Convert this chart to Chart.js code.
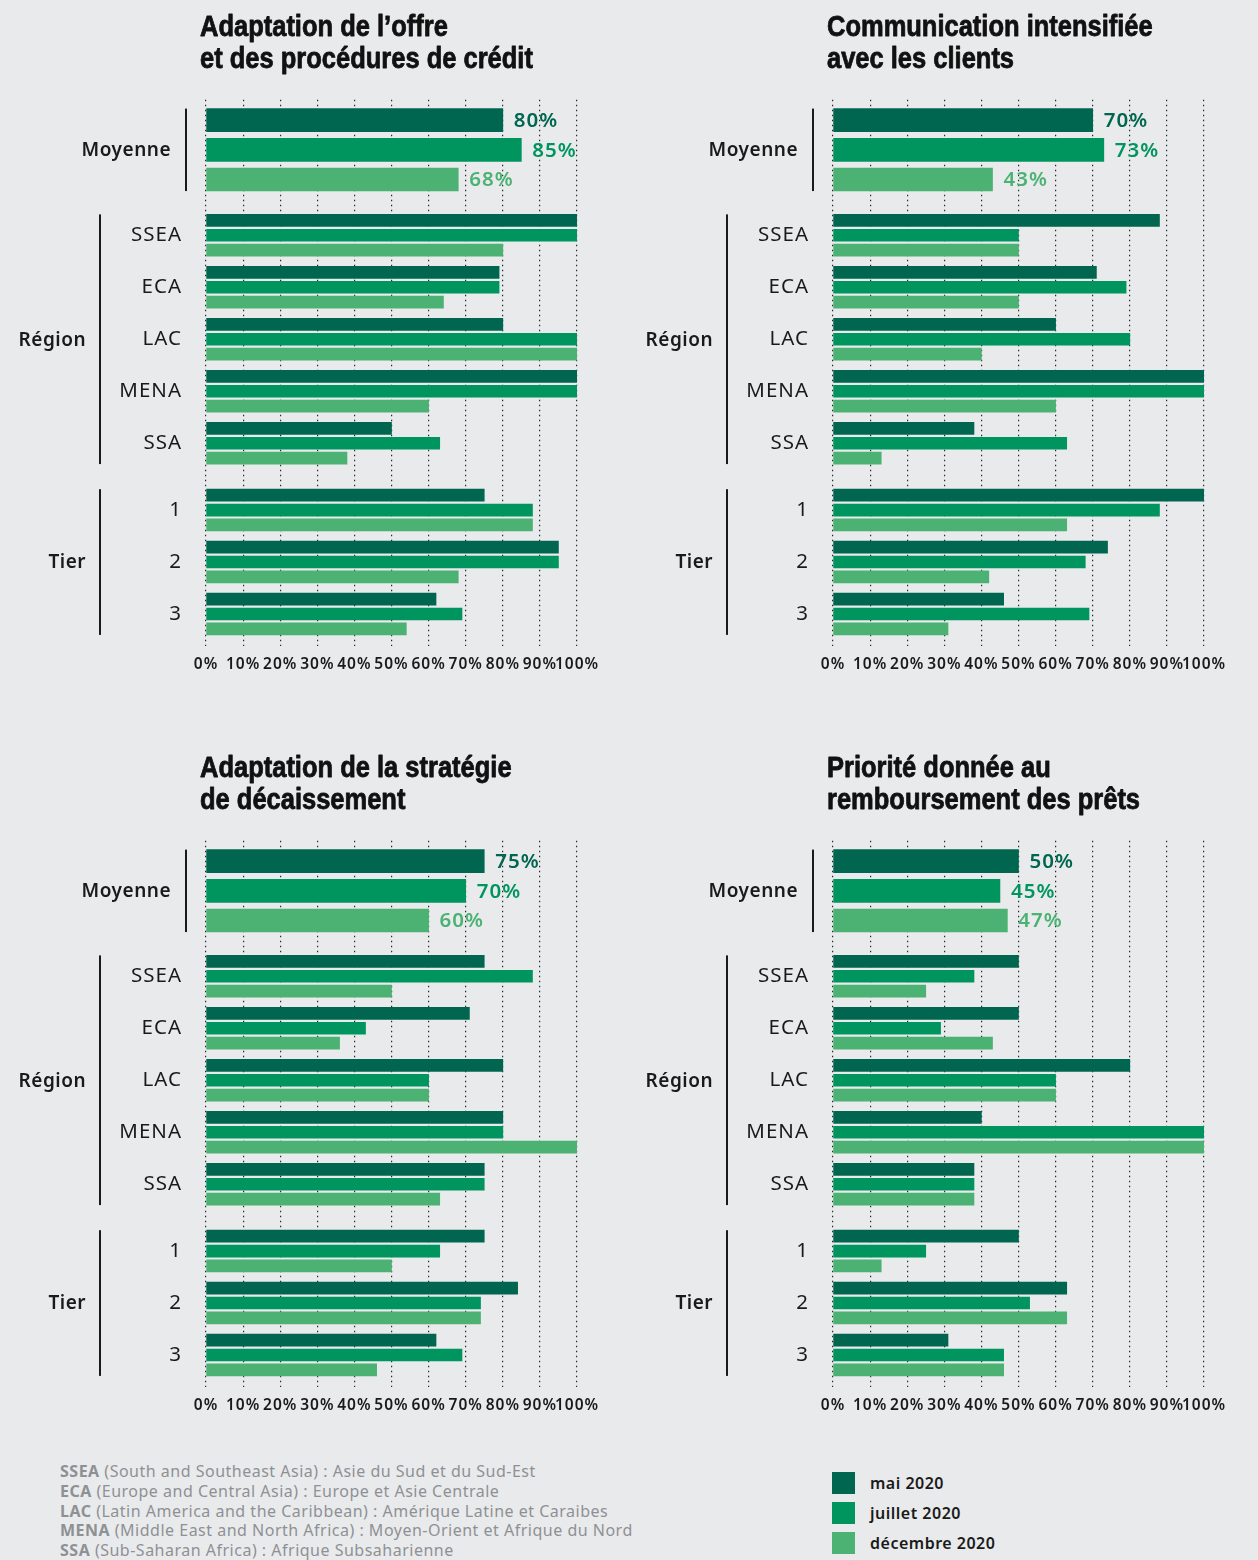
<!DOCTYPE html>
<html lang="fr">
<head>
<meta charset="utf-8">
<title>Adaptations face à la crise</title>
<script src="https://cdn.jsdelivr.net/npm/chart.js@4.4.1/dist/chart.umd.min.js"></script>
<style>
  html, body { margin: 0; padding: 0; background: #e9eaec; }
  body { width: 1258px; height: 1560px; position: relative; overflow: hidden; font-family: "Noto Sans", sans-serif; }
  .panel { position: absolute; width: 627px; height: 682px; }
  .notes { position: absolute; left: 60px; top: 1462px; color: #8e9194; font-size: 16px; letter-spacing: 0.5px; line-height: 19.8px; white-space: nowrap; }
  .notes b { font-weight: 700; }
  .legend { position: absolute; left: 832px; top: 1472px; color: #1a1a1a; font-size: 16px; font-weight: 600; letter-spacing: 0.5px; }
  .legend .item { position: relative; height: 22px; margin-bottom: 8px; }
  .legend .sw { position: absolute; left: 0; top: 0; width: 23px; height: 22px; }
  .legend .txt { position: absolute; left: 38px; top: 0; line-height: 22px; white-space: nowrap; }
</style>
</head>
<body>
<canvas id="c0" class="panel" width="627" height="682" style="left:0;top:0"></canvas>
<canvas id="c1" class="panel" width="627" height="682" style="left:627px;top:0"></canvas>
<canvas id="c2" class="panel" width="627" height="682" style="left:0;top:741px"></canvas>
<canvas id="c3" class="panel" width="627" height="682" style="left:627px;top:741px"></canvas>

<div class="notes">
  <div><b>SSEA</b> (South and Southeast Asia) : Asie du Sud et du Sud-Est</div>
  <div><b>ECA</b> (Europe and Central Asia) : Europe et Asie Centrale</div>
  <div><b>LAC</b> (Latin America and the Caribbean) : Amérique Latine et Caraibes</div>
  <div><b>MENA</b> (Middle East and North Africa) : Moyen-Orient et Afrique du Nord</div>
  <div><b>SSA</b> (Sub-Saharan Africa) : Afrique Subsaharienne</div>
</div>
<div class="legend" id="legend"></div>

<script>
// Series, groups and axis ticks shared by the four panels
const SERIES = ['mai 2020', 'juillet 2020', 'décembre 2020'];
const SERIES_COLORS = ['#00664f', '#00955f', '#4bb273'];
const REGIONS = ['SSEA', 'ECA', 'LAC', 'MENA', 'SSA'];
const TIERS = ['1', '2', '3'];
const SECTIONS = ['Moyenne', 'Région', 'Tier'];
const PERCENT_TICKS = [0, 10, 20, 30, 40, 50, 60, 70, 80, 90, 100];

// Adaptation de l'offre et des procédures de crédit
const offreTitle = ['Adaptation de l\u2019offre', 'et des procédures de crédit'];
const offreMoyenne = [80, 85, 68];
const offreRegion = [[100, 79, 80, 100, 50], [100, 79, 100, 100, 63], [80, 64, 100, 60, 38]];
const offreTier = [[75, 95, 62], [88, 95, 69], [88, 68, 54]];

// Communication intensifiée avec les clients
const commTitle = ['Communication intensifiée', 'avec les clients'];
const commMoyenne = [70, 73, 43];
const commRegion = [[88, 71, 60, 100, 38], [50, 79, 80, 100, 63], [50, 50, 40, 60, 13]];
const commTier = [[100, 74, 46], [88, 68, 69], [63, 42, 31]];

// Adaptation de la stratégie de décaissement
const decTitle = ['Adaptation de la stratégie', 'de décaissement'];
const decMoyenne = [75, 70, 60];
const decRegion = [[75, 71, 80, 80, 75], [88, 43, 60, 80, 75], [50, 36, 60, 100, 63]];
const decTier = [[75, 84, 62], [63, 74, 69], [50, 74, 46]];

// Priorité donnée au remboursement des prêts
const rembTitle = ['Priorité donnée au', 'remboursement des prêts'];
const rembMoyenne = [50, 45, 47];
const rembRegion = [[50, 50, 80, 40, 38], [38, 29, 60, 100, 38], [25, 43, 60, 100, 38]];
const rembTier = [[50, 63, 31], [25, 53, 46], [13, 63, 46]];

const PANELS = [
  { title: offreTitle, moyenne: offreMoyenne, region: offreRegion, tier: offreTier },
  { title: commTitle, moyenne: commMoyenne, region: commRegion, tier: commTier },
  { title: decTitle, moyenne: decMoyenne, region: decRegion, tier: decTier },
  { title: rembTitle, moyenne: rembMoyenne, region: rembRegion, tier: rembTier }
];

// Row layout of the category axis (half-bar units): each bar sits on its own row
const ROWS = 147, AVG_ROW = 5, AVG_STEP = 8, REGION_ROW = 32, TIER_ROW = 106, GROUP_STEP = 14, BAR_STEP = 4;

const LABEL_FONT = '"Noto Sans", "DejaVu Sans", sans-serif';
const TITLE_FONT = 'bold 29.3px "Liberation Sans", Arial, sans-serif';
const INK = '#1a1a1a';

const panelDecor = {
  id: 'panelDecor',
  beforeDraw(chart) {
    chart.ctx.letterSpacing = '1px';
  },
  afterDatasetsDraw(chart, args, opts) {
    const { ctx, chartArea: a, scales: { y } } = chart;
    const py = r => y.getPixelForValue(r);
    ctx.save();

    // title, in a tight condensed cut
    ctx.save();
    ctx.letterSpacing = '0px';
    ctx.fillStyle = '#111';
    ctx.strokeStyle = '#111';
    ctx.lineWidth = 0.8;
    ctx.lineJoin = 'round';
    ctx.font = TITLE_FONT;
    ctx.textAlign = 'left';
    ctx.textBaseline = 'alphabetic';
    ctx.translate(a.left - 6, 0);
    ctx.scale(0.87, 1);
    opts.title.forEach((line, i) => {
      ctx.fillText(line, 0, 36 + 32 * i);
      ctx.strokeText(line, 0, 36 + 32 * i);
    });
    ctx.restore();

    // value labels on the average bars
    ctx.letterSpacing = '1px';
    ctx.font = '600 20.5px ' + LABEL_FONT;
    ctx.textAlign = 'left';
    ctx.textBaseline = 'middle';
    chart.data.datasets.forEach((ds, di) => {
      if (!ds.isAverage) return;
      chart.getDatasetMeta(di).data.forEach((bar, i) => {
        const v = ds.data[i];
        if (v === null || v === undefined) return;
        ctx.fillStyle = ds.backgroundColor;
        ctx.fillText(v + '%', bar.x + 11, bar.y + 1);
      });
    });

    // section labels and brackets
    ctx.fillStyle = INK;
    ctx.textAlign = 'right';
    ctx.letterSpacing = '0.5px';
    ctx.font = '600 19px ' + LABEL_FONT;
    const bracket = (x, r0, r1, half) => {
      const top = py(r0) - half, bottom = py(r1) + half;
      ctx.fillRect(x - 1, top, 2, bottom - top);
      return (top + bottom) / 2;
    };
    const avgMid = bracket(a.left - 20, AVG_ROW, AVG_ROW + 2 * AVG_STEP, 11.5);
    ctx.fillText(SECTIONS[0], a.left - 35, avgMid + 1);
    const regMid = bracket(a.left - 106, REGION_ROW, REGION_ROW + GROUP_STEP * (REGIONS.length - 1) + 2 * BAR_STEP, 6);
    ctx.fillText(SECTIONS[1], a.left - 120, regMid + 1);
    const tierMid = bracket(a.left - 106, TIER_ROW, TIER_ROW + GROUP_STEP * (TIERS.length - 1) + 2 * BAR_STEP, 6);
    ctx.fillText(SECTIONS[2], a.left - 120, tierMid + 1);

    ctx.restore();
  }
};

function makeChart(canvas, panel) {
  const labels = new Array(ROWS).fill('');
  REGIONS.forEach((n, g) => { labels[REGION_ROW + GROUP_STEP * g + BAR_STEP] = n; });
  TIERS.forEach((n, g) => { labels[TIER_ROW + GROUP_STEP * g + BAR_STEP] = n; });

  const datasets = [];
  SERIES.forEach((name, k) => {
    const avg = new Array(ROWS).fill(null);
    avg[AVG_ROW + AVG_STEP * k] = panel.moyenne[k];
    datasets.push({ label: name, data: avg, backgroundColor: SERIES_COLORS[k], barThickness: 23, grouped: false, isAverage: true });
  });
  SERIES.forEach((name, k) => {
    const det = new Array(ROWS).fill(null);
    REGIONS.forEach((n, g) => { det[REGION_ROW + GROUP_STEP * g + BAR_STEP * k] = panel.region[k][g]; });
    TIERS.forEach((n, g) => { det[TIER_ROW + GROUP_STEP * g + BAR_STEP * k] = panel.tier[k][g]; });
    datasets.push({ label: name, data: det, backgroundColor: SERIES_COLORS[k], barThickness: 12, grouped: false });
  });

  return new Chart(canvas, {
    type: 'bar',
    data: { labels, datasets },
    options: {
      indexAxis: 'y',
      responsive: false,
      animation: false,
      layout: { padding: { top: 99.7, right: 50, bottom: 0, left: 0 } },
      plugins: {
        legend: { display: false },
        tooltip: { enabled: false },
        panelDecor: { title: panel.title }
      },
      scales: {
        x: {
          type: 'linear', min: 0, max: 100, position: 'bottom',
          afterBuildTicks: s => { s.ticks = PERCENT_TICKS.map(v => ({ value: v })); },
          afterFit: s => { s.height = 36.4; },
          ticks: {
            autoSkip: false, maxRotation: 0, padding: 10, color: INK,
            font: { family: LABEL_FONT, size: 15.5, weight: '600' },
            callback: v => v + '%'
          },
          grid: { color: '#2a2a2a', lineWidth: 1.2, drawTicks: false },
          border: { display: false, dash: [1.5, 3.5] }
        },
        y: {
          type: 'category', offset: true,
          afterFit: s => { s.width = 206; },
          grid: { display: false, drawTicks: false },
          border: { display: false },
          ticks: { autoSkip: false, padding: 24, color: INK, font: { family: LABEL_FONT, size: 20.5, lineHeight: 1 } }
        }
      }
    },
    plugins: [panelDecor]
  });
}

PANELS.forEach((p, i) => makeChart(document.getElementById('c' + i), p));

// shared legend
const legend = document.getElementById('legend');
SERIES.forEach((name, k) => {
  const item = document.createElement('div');
  item.className = 'item';
  item.innerHTML = '<span class="sw" style="background:' + SERIES_COLORS[k] + '"></span><span class="txt">' + name + '</span>';
  legend.appendChild(item);
});
</script>
</body>
</html>
